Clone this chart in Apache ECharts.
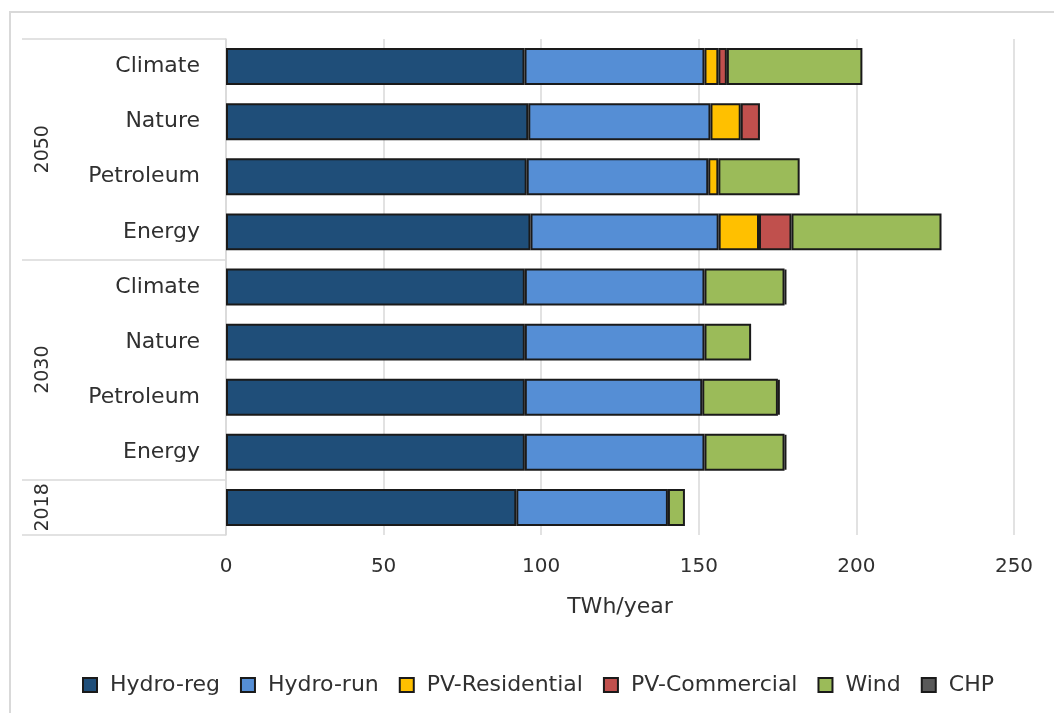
<!DOCTYPE html>
<html>
<head>
<meta charset="utf-8">
<script src="https://cdn.jsdelivr.net/npm/echarts@6/dist/echarts.min.js"></script>
<style>
  body { margin: 0; background: #fff; }
  #frame { position: absolute; left: 9px; top: 11px; width: 1100px; height: 800px; border: 2px solid #d9d9d9; box-sizing: border-box; }
  #chart { position: absolute; left: 0; top: 0; width: 1054px; height: 713px; }
</style>
</head>
<body>
<div id="frame"></div>
<div id="chart"></div>
<script>
// rows from bottom to top (Excel order)
var scenarios = ["", "Energy", "Petroleum", "Nature", "Climate", "Energy", "Petroleum", "Nature", "Climate"];

// half-row slots used for the year group axis (0..18)
var groupSlots = ["", "2018", "", "", "", "", "2030", "", "", "", "", "", "", "", "2050", "", "", "", ""];
var groupBounds = [0, 2, 10, 18];

var seriesNames = ["Hydro-reg", "Hydro-run", "PV-Residential", "PV-Commercial", "Wind", "CHP"];
var seriesColors = ["#1f4e79", "#558ed5", "#ffc000", "#c0504d", "#9bbb59", "#595959"];

// TWh/year, same order as scenarios
var hydroReg      = [92.1, 94.8, 94.8, 94.8, 94.8, 96.6, 95.4, 95.9, 94.7];
var hydroRun      = [48.1, 57.0, 56.3, 57.0, 57.0, 59.7, 57.6, 57.8, 57.1];
var pvResidential = [0, 0, 0, 0, 0, 12.8, 3.2, 9.6, 4.4];
var pvCommercial  = [0, 0, 0, 0, 0, 10.3, 0, 6.1, 2.7];
var wind          = [5.4, 25.4, 24.0, 14.8, 25.4, 47.6, 25.8, 0, 43.0];
var chp           = [0, 0.6, 0.6, 0, 0.6, 0, 0, 0, 0];

var seriesValues = [hydroReg, hydroRun, pvResidential, pvCommercial, wind, chp];

var textColor = "#303030";
var font = "DejaVu Sans";

var myChart = echarts.init(document.getElementById("chart"));

var series = seriesNames.map(function (name, i) {
  return {
    name: name,
    type: "bar",
    stack: "total",
    barWidth: "67%",
    itemStyle: { color: seriesColors[i], borderColor: "#1a1a1a", borderWidth: 2 },
    data: seriesValues[i].map(function (v) { return v === 0 ? "-" : v; })
  };
});

var option = {
  animation: false,
  textStyle: { fontFamily: font },
  grid: { left: 226, right: 40, top: 39, bottom: 178 },
  xAxis: {
    type: "value",
    min: 0,
    max: 250,
    interval: 50,
    name: "TWh/year",
    nameLocation: "middle",
    nameGap: 61,
    nameTextStyle: { color: textColor, fontSize: 22, fontFamily: font },
    axisLine: { show: false },
    axisTick: { show: false },
    axisLabel: { color: textColor, fontSize: 20, margin: 22, fontFamily: font },
    splitLine: { lineStyle: { color: "#d9d9d9", width: 1.5 } }
  },
  yAxis: [
    {
      type: "category",
      data: scenarios,
      axisLine: { lineStyle: { color: "#d9d9d9", width: 1.5 } },
      axisTick: { show: false },
      axisLabel: { color: textColor, fontSize: 22, margin: 26, fontFamily: font, padding: [3, 0, 0, 0] }
    },
    {
      type: "category",
      position: "left",
      offset: 0,
      boundaryGap: false,
      data: groupSlots,
      axisLine: { show: false },
      axisTick: {
        show: true,
        length: 204,
        interval: function (index) { return groupBounds.indexOf(index) >= 0; },
        lineStyle: { color: "#d9d9d9", width: 1.5 }
      },
      axisLabel: {
        interval: 0,
        rotate: 90,
        margin: 173,
        color: textColor,
        fontSize: 19,
        fontFamily: font
      },
      splitLine: { show: false }
    }
  ],
  legend: {
    left: 77,
    top: 669,
    icon: "rect",
    itemWidth: 14,
    itemHeight: 14,
    itemGap: 20,
    textStyle: { color: textColor, fontSize: 22, fontFamily: font, padding: [0, 0, 0, 8] },
    data: seriesNames
  },
  series: series
};

myChart.setOption(option);
</script>
</body>
</html>
